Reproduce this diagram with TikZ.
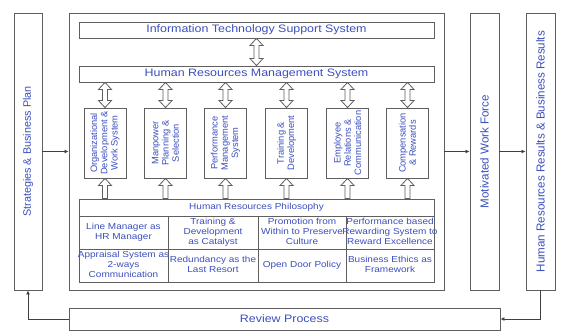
\documentclass[tikz,border=0pt]{standalone}
\usepackage{fontspec}
\setmainfont{Liberation Sans}
\newfontfamily\wide[FakeStretch=1.15]{Liberation Sans}
\usetikzlibrary{calc,arrows.meta}
\definecolor{tb}{RGB}{60,80,190}
\definecolor{lc}{RGB}{95,95,95}
\newcommand\dblarr[2]{%
  \draw[blk] let \p1=(#1), \p2=(#2) in
   (\x1,\y1) -- (\x1+6.5pt,\y1-7pt) -- (\x1+2.5pt,\y1-7pt) -- (\x1+2.5pt,\y2+7pt)
   -- (\x1+6.5pt,\y2+7pt) -- (\x1,\y2) -- (\x1-6.5pt,\y2+7pt) -- (\x1-2.5pt,\y2+7pt)
   -- (\x1-2.5pt,\y1-7pt) -- (\x1-6.5pt,\y1-7pt) -- cycle;}
\newcommand\uparr[2]{%
  \draw[blk] let \p1=(#1), \p2=(#2) in
   (\x1,\y1) -- (\x1+6.5pt,\y1-7pt) -- (\x1+2.5pt,\y1-7pt) -- (\x1+2.5pt,\y2)
   -- (\x1-2.5pt,\y2) -- (\x1-2.5pt,\y1-7pt) -- (\x1-6.5pt,\y1-7pt) -- cycle;}
\newcommand\ctext[1]{\makebox[78pt][c]{\begin{tabular}{@{}c@{}}#1\end{tabular}}}
\begin{document}
\begin{tikzpicture}[x=1pt,y=-1pt,
  frame/.style={draw=lc, line width=0.9pt, inner sep=0pt},
  blk/.style={draw=lc, line width=0.8pt, fill=white, line join=miter},
  conn/.style={draw=black!75, line width=0.8pt, -{Latex[length=4pt,width=4pt]}},
  big/.style={text=tb, font=\wide\fontsize{10.8}{12}\selectfont, inner sep=0pt},
  vbig/.style={text=tb, rotate=90, inner sep=0pt},
  vsmall/.style={text=tb, rotate=90, align=center, inner sep=0pt, font=\fontsize{9.3}{10.3}\selectfont},
  cell/.style={frame, text=tb, font=\wide\fontsize{8.7}{10}\selectfont},
  sbox/.style={frame, minimum width=42pt, minimum height=70pt}
]
\useasboundingbox (0,0) rectangle (564,331);
\fill[white] (0,0) rectangle (564,331);

% outer column boxes
\node[frame, minimum width=28pt, minimum height=277pt] (strat) at (28,151.5) {};
\node[vbig, font=\fontsize{10.8}{12}\selectfont] (stratt) at (strat) {Strategies \& Business Plan};
\node[frame, minimum width=375pt, minimum height=277pt] (main) at (256.5,151.5) {};
\node[frame, minimum width=29pt, minimum height=277pt] (motiv) at (484.5,151.5) {};
\node[vbig, font=\fontsize{11.6}{13}\selectfont] (motivt) at (motiv) {Motivated Work Force};
\node[frame, minimum width=29pt, minimum height=277pt] (res) at (540.5,151.5) {};
\node[vbig, font=\fontsize{11.6}{13}\selectfont] (rest) at (res) {Human Resources Results \& Business Results};
\node[frame, minimum width=431pt, minimum height=22pt] (rev) at (284.5,319) {};
\node[big] (revt) at (rev) {Review Process};

% systems
\node[frame, minimum width=355pt, minimum height=16pt] (it) at (256.5,30) {};
\node[big] (itt) at (it) {Information Technology Support System};
\node[frame, minimum width=355pt, minimum height=16pt] (hrms) at (256.5,74) {};
\node[big] (hrmst) at (hrms) {Human Resources Management System};

% functional boxes
\node[sbox] (b1) at (105,143) {};
\node[vsmall] (t1) at (b1) {Organizational\\Development \&\\Work System};
\node[sbox] (b2) at (165.5,143) {};
\node[vsmall] (t2) at (b2) {Manpower\\Planning \&\\Selection};
\node[sbox] (b3) at (225.5,143) {};
\node[vsmall] (t3) at (b3) {Performance\\Management\\System};
\node[sbox] (b4) at (286.5,143) {};
\node[vsmall] (t4) at (b4) {Training \&\\Development};
\node[sbox] (b5) at (347.5,143) {};
\node[vsmall] (t5) at (b5) {Employee\\Relations \&\\Communication};
\node[sbox] (b6) at (407.5,143) {};
\node[vsmall] (t6) at (b6) {Compensation\\\& Rewards};

% philosophy table
\node[cell, minimum width=355pt, minimum height=17pt] (hdr) at (256.5,207.5) {Human Resources Philosophy};
\node[cell, minimum width=89pt, minimum height=33pt] (c11) at (123.5,232.5) {\ctext{Line Manager as\\HR Manager}};
\node[cell, minimum width=90pt, minimum height=33pt] (c12) at (213,232.5) {\ctext{Training \&\\Development\\as Catalyst}};
\node[cell, minimum width=88pt, minimum height=33pt] (c13) at (302,232.5) {\ctext{Promotion from\\Within to Preserve\\Culture}};
\node[cell, minimum width=88pt, minimum height=33pt] (c14) at (390,232.5) {\ctext{Performance based\\Rewarding System to\\Reward Excellence}};
\node[cell, minimum width=89pt, minimum height=33pt] (c21) at (123.5,265.5) {\ctext{Appraisal System as\\2-ways\\Communication}};
\node[cell, minimum width=90pt, minimum height=33pt] (c22) at (213,265.5) {\ctext{Redundancy as the\\Last Resort}};
\node[cell, minimum width=88pt, minimum height=33pt] (c23) at (302,265.5) {\ctext{Open Door Policy}};
\node[cell, minimum width=88pt, minimum height=33pt] (c24) at (390,265.5) {\ctext{Business Ethics as\\Framework}};

% block arrows
\dblarr{it.south}{hrms.north}
\foreach \b in {b1,b2,b3,b4,b5,b6}{
  \dblarr{hrms.south -| \b}{\b.north}
  \uparr{\b.south}{hdr.north -| \b}
}

% connectors
\draw[conn] (strat) -- (main);
\draw[conn] (main) -- (motiv);
\draw[conn] (motiv) -- (res);
\draw[conn] (res.south) |- (rev.east);
\draw[conn] (rev.west) -| (strat.south);
\end{tikzpicture}
\end{document}
